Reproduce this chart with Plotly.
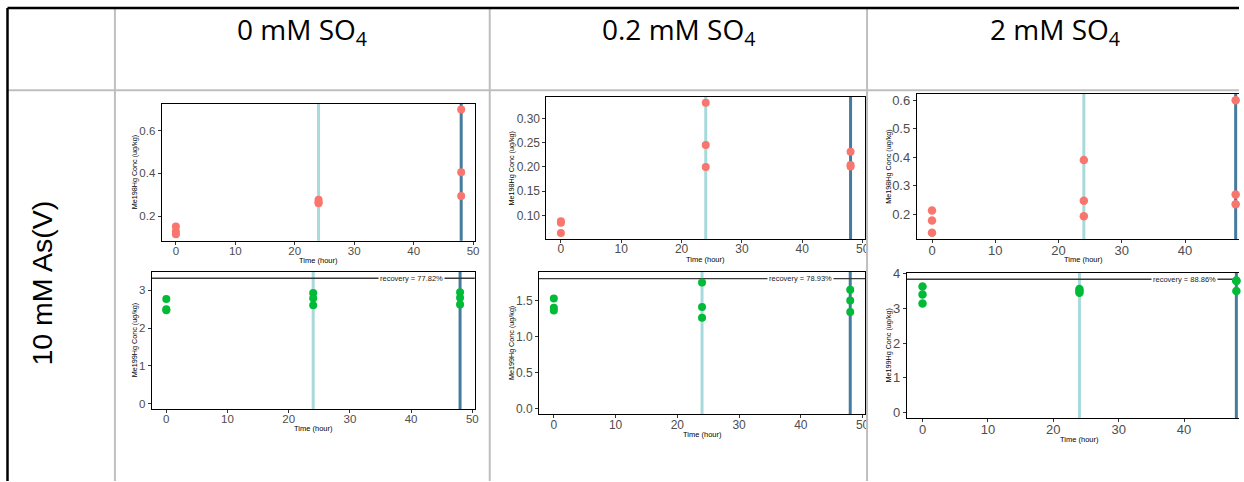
import plotly.graph_objects as go

W, H = 1244, 482

# ---------------- data ----------------
col_labels = ["0 mM SO<sub>4</sub>", "0.2 mM SO<sub>4</sub>", "2 mM SO<sub>4</sub>"]
row_label = "10 mM As(V)"
time_h = [0, 0, 0, 24, 24, 24, 48, 48, 48]
me198_0 = [0.152, 0.128, 0.115, 0.276, 0.265, 0.260, 0.698, 0.405, 0.294]
me199_0 = [2.77, 2.50, 2.47, 2.93, 2.79, 2.60, 2.95, 2.80, 2.62]
me198_02 = [0.088, 0.085, 0.064, 0.332, 0.245, 0.200, 0.231, 0.204, 0.201]
me199_02 = [1.53, 1.40, 1.36, 1.75, 1.41, 1.26, 1.65, 1.50, 1.34]
me198_2 = [0.214, 0.179, 0.136, 0.391, 0.248, 0.194, 0.600, 0.270, 0.236]
me199_2 = [3.63, 3.40, 3.14, 3.56, 3.50, 3.45, 3.79, 3.80, 3.50]
recovery_pct = [77.82, 78.93, 88.86]
recovery_line = [3.317, 1.805, 3.837]
vline_times = [24, 48]
x_ticks = [0, 10, 20, 30, 40, 50]

RED = "#F8766D"
GREEN = "#00BA38"
VCOL = ["#A8DADC", "#457B9D"]
SANS = "Liberation Sans, Arial, sans-serif"

# calibration of the page capture (observed offset/scale)
Y_OFF, Y_SCALE = 6.4, 0.987
X_SCALE = 0.9965
RIGHT_EDGE = W * X_SCALE  # right edge of the page, in picture pixels


def px(v):
    return min(1.0, (v / X_SCALE) / W)


def py(v):
    return 1 - ((v - Y_OFF) / Y_SCALE) / H


# panel layout: (x0,x1,y_top,y_bottom) in pixels, pixels per hour, styles
panels = [
    dict(box=(161.7, 475.7, 103.3, 241.0), yr=[0.085, 0.726],
         y=me198_0, c=RED, yt="Me198Hg Conc (ug/kg)", dt=0.2, fmt=".1f", fs=11.5, yo=27.5, xo=19.7, ms=8, mirror_y=True),
    dict(box=(151.7, 475.0, 272.3, 410.0), yr=[-0.15, 3.486],
         y=me199_0, c=GREEN, yt="Me199Hg Conc (ug/kg)", dt=1, fmt="d", fs=11.5, yo=17, xo=19.3, ms=8, mirror_y=True, rec=0),
    dict(box=(546.7, 865.5, 96.7, 239.3), yr=[0.0515, 0.344],
         y=me198_02, c=RED, yt="Me198Hg Conc (ug/kg)", dt=0.05, fmt=".2f", fs=12, yo=35, xo=20.7, ms=8, mirror_y=True),
    dict(box=(539.3, 865.5, 272.3, 415.0), yr=[-0.079, 1.898],
         y=me199_02, c=GREEN, yt="Me199Hg Conc (ug/kg)", dt=0.5, fmt=".1f", fs=12, yo=28, xo=20.7, ms=8, mirror_y=True, rec=1),
    dict(box=(917.3, 1251.5, 93.3, 239.3), yr=[0.114, 0.623],
         y=me198_2, c=RED, yt="Me198Hg Conc (ug/kg)", dt=0.1, fmt=".1f", fs=13, yo=28.5, xo=20.7, ms=8.5, mirror_y=False),
    dict(box=(907.3, 1252.7, 273.3, 419.3), yr=[-0.172, 4.02],
         y=me199_2, c=GREEN, yt="Me199Hg Conc (ug/kg)", dt=1, fmt="d", fs=13, yo=18, xo=21, ms=8.5, mirror_y=False, rec=2),
]
X_LO, X_HI = -2.4, 50.4

fig = go.Figure()
shapes = []
annotations = []
layout = dict(
    width=W, height=H, margin=dict(l=0, r=0, t=0, b=0, pad=0),
    paper_bgcolor="white", plot_bgcolor="white", showlegend=False,
)

for i, p in enumerate(panels, start=1):
    sx = "" if i == 1 else str(i)
    xa, ya = "x" + sx, "y" + sx
    x0, x1, yt0, yb = p["box"]
    # panels of the last column are cut by the page edge
    ppu = (x1 - x0) / (X_HI - X_LO)
    x1_vis = min(x1, RIGHT_EDGE)
    xr = [X_LO, X_LO + (x1_vis - x0) / ppu]
    fig.add_trace(go.Scatter(
        x=time_h, y=p["y"], mode="markers", xaxis=xa, yaxis=ya,
        marker=dict(color=p["c"], size=p["ms"], line=dict(width=0)),
        hoverinfo="x+y", cliponaxis=False,
    ))
    tickfont = dict(family=SANS, size=p["fs"], color="#4D4D4D")
    layout["xaxis" + sx] = dict(
        domain=[px(x0), px(x1_vis)], range=xr, anchor=ya,
        tickmode="array", tickvals=x_ticks, ticks="outside", ticklen=3, tickwidth=1,
        tickcolor="#333333", tickfont=tickfont, ticklabelstandoff=-4,
        showline=True, linecolor="black",
        linewidth=1, mirror=True, showgrid=False, zeroline=False,
    )
    layout["yaxis" + sx] = dict(
        domain=[py(yb), py(yt0)], range=p["yr"], anchor=xa,
        dtick=p["dt"], tick0=0, tickformat=p["fmt"], ticks="outside", ticklen=3,
        tickwidth=1, tickcolor="#333333", tickfont=tickfont, showline=True,
        linecolor="black", linewidth=1, mirror=p["mirror_y"], showgrid=False,
        zeroline=False,
    )
    # vertical reference lines
    for t, col in zip(vline_times, VCOL):
        shapes.append(dict(type="line", xref=xa, yref=ya + " domain", x0=t, x1=t,
                           y0=0, y1=1, line=dict(color=col, width=3), layer="below"))
    # recovery line and label
    if "rec" in p:
        k = p["rec"]
        shapes.append(dict(type="line", xref=xa + " domain", yref=ya, x0=0, x1=1,
                           y0=recovery_line[k], y1=recovery_line[k],
                           line=dict(color="#3A3A3A", width=1.4), layer="below"))
        annotations.append(dict(
            xref=xa, yref=ya, x=40, y=recovery_line[k],
            text=f"recovery = {recovery_pct[k]:.2f}%", showarrow=False,
            bgcolor="white", borderpad=1,
            font=dict(family=SANS, size=7.5, color="#1A1A1A"),
        ))
    # axis titles
    annotations.append(dict(
        xref=xa, yref=ya + " domain", x=(X_LO + X_HI) / 2, y=0, yanchor="middle",
        yshift=-p["xo"], text="Time (hour)", showarrow=False,
        font=dict(family=SANS, size=7.5, color="black"),
    ))
    annotations.append(dict(
        xref=xa + " domain", yref=ya + " domain", x=0, y=0.5, xanchor="center",
        xshift=-p["yo"], text=p["yt"], textangle=-90, showarrow=False,
        font=dict(family=SANS, size=7.2, color="black"),
    ))

# hide the clipped part of the "50" labels in the middle column
for (yy0, yy1) in [(242, 256), (417, 432)]:
    shapes.append(dict(type="rect", xref="paper", yref="paper",
                       x0=px(868.5), x1=px(880), y0=py(yy1), y1=py(yy0),
                       line=dict(width=0), fillcolor="white", layer="above"))

# table grid
GRAY = "#BFBFBF"
shapes.append(dict(type="line", xref="paper", yref="paper", x0=px(7.5), x1=1,
                   y0=py(90), y1=py(90), line=dict(color=GRAY, width=2), layer="above"))
for gx in [115, 490, 867.5]:
    shapes.append(dict(type="line", xref="paper", yref="paper", x0=px(gx), x1=px(gx),
                       y0=0, y1=py(7.5), line=dict(color=GRAY, width=2), layer="above"))
shapes.append(dict(type="line", xref="paper", yref="paper", x0=px(7.5), x1=1,
                   y0=py(7.5), y1=py(7.5), line=dict(color="black", width=2.5), layer="above"))
shapes.append(dict(type="line", xref="paper", yref="paper", x0=px(7.5), x1=px(7.5),
                   y0=0, y1=py(7.5), line=dict(color="black", width=2.5), layer="above"))

# headers
for lab, cx in zip(col_labels, [302.5, 678.5, 1055.5]):
    annotations.append(dict(
        xref="paper", yref="paper", x=px(cx), y=py(30), text=lab, showarrow=False,
        xanchor="center", yanchor="middle",
        font=dict(family="Open Sans, sans-serif", size=28, color="black"),
    ))
annotations.append(dict(
    xref="paper", yref="paper", x=px(42), y=py(283), text=row_label, textangle=-90,
    showarrow=False, xanchor="center", yanchor="middle",
    font=dict(family=SANS, size=28.5, color="black"),
))

layout["shapes"] = shapes
layout["annotations"] = annotations
fig.update_layout(**layout)
fig.write_html("out.html")
